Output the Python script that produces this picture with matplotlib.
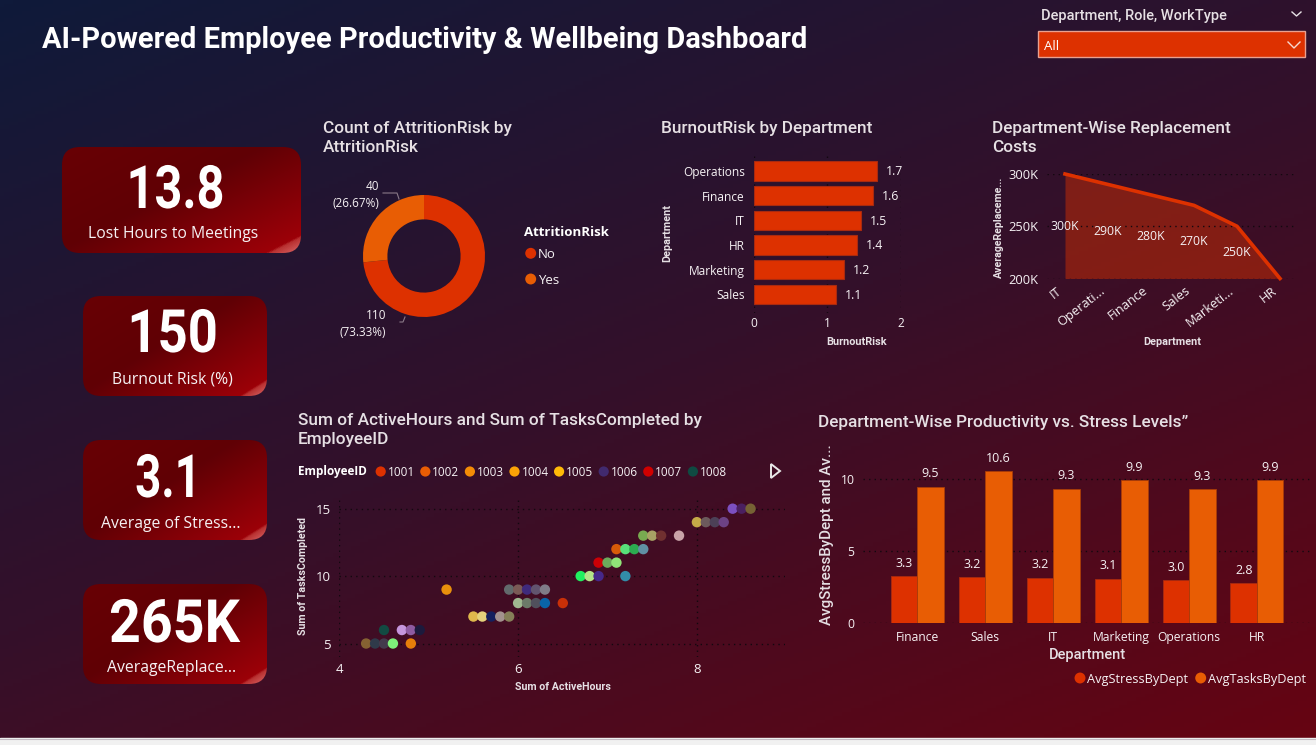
import matplotlib
matplotlib.use('Agg')
import matplotlib.pyplot as plt
import matplotlib.patheffects as pe
import numpy as np
from matplotlib.colors import LinearSegmentedColormap
from matplotlib.patches import FancyBboxPatch, Rectangle
from matplotlib.transforms import Affine2D, ScaledTranslation

kpi_values = ['13.8', '150', '3.1', '265K']
kpi_labels = ['Lost Hours to Meetings', 'Burnout Risk (%)', 'Average of Stress...', 'AverageReplace...']

attrition_labels = ['No', 'Yes']
attrition_counts = [110, 40]

burnout_depts = ['Operations', 'Finance', 'IT', 'HR', 'Marketing', 'Sales']
burnout_values = [1.68, 1.62, 1.46, 1.41, 1.23, 1.12]

cost_depts = ['IT', 'Operati...', 'Finance', 'Sales', 'Marketi...', 'HR']
cost_values = [300000, 290000, 280000, 270000, 250000, 200000]

active_hours = [4.3, 4.4, 4.5, 4.6, 4.8,
                4.5, 4.7, 4.8, 4.9,
                5.5, 5.6, 5.7, 5.8, 5.9,
                6.0, 6.1, 6.2, 6.3, 6.5,
                5.2, 5.9, 6.0, 6.1, 6.2, 6.3,
                6.7, 6.8, 6.9, 7.2,
                6.9, 7.0, 7.1,
                7.1, 7.2, 7.3, 7.4,
                7.4, 7.5, 7.6, 7.8,
                8.0, 8.1, 8.2, 8.3,
                8.4, 8.5, 8.6]
tasks_completed = [5, 5, 5, 5, 5,
                   6, 6, 6, 6,
                   7, 7, 7, 7, 7,
                   8, 8, 8, 8, 8,
                   9, 9, 9, 9, 9, 9,
                   10, 10, 10, 10,
                   11, 11, 11,
                   12, 12, 12, 12,
                   13, 13, 13, 13,
                   14, 14, 14, 14,
                   15, 15, 15]
point_colors = ['#856232', '#2f3a4a', '#433a4c', '#7ef07a', '#e67e0a',
                '#124a42', '#c596dc', '#8e5ba0', '#1c1a3c',
                '#dfb84c', '#e4d27c', '#14205e', '#a3928e', '#857f58',
                '#a0b890', '#6c7a68', '#50505c', '#0a64a8', '#c83008',
                '#e8900c', '#626a6c', '#7a5a56', '#3f2a7c', '#62546e', '#807c88',
                '#20f060', '#b4e488', '#46288a', '#328ca8',
                '#cc0006', '#6caa5c', '#90e478',
                '#d85a08', '#58e07a', '#2cac50', '#6090a4',
                '#78aa50', '#a8a264', '#703030', '#c8a4a8',
                '#c4aa48', '#6c5a5c', '#4c4056', '#6c4284',
                '#7c50c0', '#4a2060', '#766234']

legend_ids = ['1001', '1002', '1003', '1004', '1005', '1006', '1007', '1008']
legend_colors = ['#dd3100', '#e85d04', '#f48c06', '#faa307', '#ffba08', '#412a6e', '#d00000', '#0f4a42']

prod_depts = ['Finance', 'Sales', 'IT', 'Marketing', 'Operations', 'HR']
avg_stress = [3.27, 3.2, 3.16, 3.09, 2.99, 2.76]
avg_tasks = [9.49, 10.6, 9.35, 9.93, 9.33, 9.93]

RED = '#dd3100'
ORANGE = '#e85d04'
TEXT = '#f6f2f4'
TITLE = '#e6e0e4'
GRID = '#12080f'
W, H = 1316, 745
BODY = 'Open Sans'
HEAD = 'Roboto'


class Squeeze(pe.AbstractPathEffect):
    # narrows the glyphs of a text around a pixel column, there is no condensed DIN here
    def __init__(self, sx, cx):
        super().__init__()
        self.sx = sx
        self.cx = cx

    def draw_path(self, renderer, gc, tpath, affine, rgbFace=None):
        squeezed = affine + Affine2D().translate(-self.cx, 0).scale(self.sx, 1).translate(self.cx, 0)
        renderer.draw_path(gc, tpath, squeezed, rgbFace)


def px_axes(left, top, right, bottom):
    # axes placed with pixel coordinates, y counted from the top
    a = fig.add_axes([left / W, 1 - bottom / H, (right - left) / W, (bottom - top) / H])
    a.patch.set_alpha(0)
    for s in a.spines.values():
        s.set_visible(False)
    a.tick_params(length=0, colors=TEXT)
    return a


def style_ticks(a, size=9):
    for t in a.get_xticklabels() + a.get_yticklabels():
        t.set_fontfamily(BODY)
        t.set_fontsize(size)
        t.set_color(TEXT)


fig = plt.figure(figsize=(W / 100, H / 100), dpi=100)

# page background
bg = fig.add_axes([0, 0, 1, 1])
bg.axis('off')
yy, xx = np.mgrid[0:1:200j, 0:1:300j]
bg_cmap = LinearSegmentedColormap.from_list('bg', [(0, '#0f1a3a'), (0.5, '#34102a'), (1, '#660412')])
bg.imshow(0.42 * xx + 0.58 * yy, cmap=bg_cmap, extent=(0, W, 738, 0), aspect='auto', vmin=0, vmax=1)
bg.add_patch(Rectangle((0, 738), W, 7, color='#f1f1f1'))
bg.plot([0, W], [738.5, 738.5], color='#c4bcc4', lw=0.8)
bg.set_xlim(0, W)
bg.set_ylim(H, 0)

bg.text(42, 40, 'AI-Powered Employee Productivity & Wellbeing Dashboard', family=HEAD, weight='bold',
        fontsize=20.9, color='white', va='center')

# slicer
bg.text(1041, 16, 'Department, Role, WorkType', family=HEAD, weight='medium', fontsize=10.5, color=TITLE, va='center')
bg.plot([1292, 1296.5, 1301], [12, 16, 12], color=TITLE, lw=1)
bg.add_patch(Rectangle((1038, 31), 267, 26, facecolor=RED, edgecolor='#e8a090', lw=1))
bg.text(1044, 47, 'All', family=BODY, fontsize=9.5, color='white', va='center')
bg.plot([1288, 1294, 1300], [42, 48, 42], color='#f6d8d0', lw=1)

# KPI cards
card_boxes = [(62, 147, 301, 253), (83, 296, 267, 396), (83, 440, 267, 540), (83, 584, 267, 684)]
value_spots = [(175.5, 192), (172.7, 336), (168, 481), (174.5, 626)]
value_squeeze = [0.815, 0.88, 0.765, 0.93]
label_spots = [(173, 234), (172, 379), (171, 524.5), (172, 668.5)]
card_cmap = LinearSegmentedColormap.from_list('card', [(0, '#680004'), (0.45, '#600005'), (0.925, '#9c0008'),
                                                       (0.935, '#b83030'), (1, '#d86868')])
for box, val, lab, vs, sq, ls in zip(card_boxes, kpi_values, kpi_labels, value_spots, value_squeeze, label_spots):
    x0, y0, x1, y1 = box
    gy, gx = np.mgrid[0:1:160j, 0:1:240j]
    im = bg.imshow(0.535 * gx + 0.465 * gy, cmap=card_cmap, extent=(x0, x1, y1, y0), aspect='auto', vmin=0, vmax=1)
    patch = FancyBboxPatch((x0 + 18, y0 + 18), x1 - x0 - 36, y1 - y0 - 36, boxstyle='round,pad=18,rounding_size=18',
                           facecolor='none', edgecolor='none', transform=bg.transData)
    bg.add_patch(patch)
    im.set_clip_path(patch)
    bg.text(vs[0], vs[1], val, family=HEAD, weight='bold', fontsize=43, color='white', ha='center', va='center',
            path_effects=[Squeeze(sq, vs[0])])
    bg.text(ls[0], ls[1], lab, family=BODY, fontsize=11.3, color=TEXT, ha='center', va='center')
bg.set_xlim(0, W)
bg.set_ylim(H, 0)

# donut
bg.text(323, 138, 'Count of AttritionRisk by\nAttritionRisk', family=HEAD, weight='medium', fontsize=12.4, color=TITLE,
        va='center', linespacing=1.37)
ax1 = px_axes(363, 195, 485, 317)
ax1.pie(attrition_counts, colors=[RED, ORANGE], startangle=90, counterclock=False, radius=1,
        wedgeprops=dict(width=0.4, linewidth=0))
ax1.set_xlim(-1, 1)
ax1.set_ylim(-1, 1)
bg.text(379, 195, '40\n(26.67%)', family=BODY, fontsize=8.5, color=TEXT, ha='right', va='center', linespacing=1.45)
bg.text(386, 324, '110\n(73.33%)', family=BODY, fontsize=8.5, color=TEXT, ha='right', va='center', linespacing=1.45)
bg.plot([383, 397, 399], [193, 193, 199], color='#8a7a88', lw=0.8)
bg.plot([400, 403, 405], [322, 322, 317], color='#8a7a88', lw=0.8)
bg.text(524, 232, 'AttritionRisk', family=BODY, weight='bold', fontsize=9.5, color='white', va='center')
bg.scatter([530.7, 530.7], [253.3, 279], s=62, c=[RED, ORANGE], linewidths=0)
bg.text(538, 254, attrition_labels[0], family=BODY, fontsize=9.5, color=TEXT, va='center')
bg.text(538, 280, attrition_labels[1], family=BODY, fontsize=9.5, color=TEXT, va='center')

# burnout bars
bg.text(661, 129, 'BurnoutRisk by Department', family=HEAD, weight='medium', fontsize=12.4, color=TITLE, va='center')
ax2 = px_axes(753.7, 153, 900.7, 313)
ypos = np.arange(len(burnout_depts))
ax2.barh(ypos, burnout_values, height=0.78, color=RED, edgecolor='#a82a10', linewidth=0.8)
ax2.set_yticks(ypos, burnout_depts)
ax2.set_ylim(5.76, -0.73)
ax2.set_xlim(0, 2)
ax2.set_xticks([0, 1, 2])
ax2.grid(axis='x', color=GRID, ls=(0, (1, 3)), lw=1)
ax2.set_axisbelow(True)
ax2.tick_params(axis='x', pad=3)
ax2.tick_params(axis='y', pad=6.5)
style_ticks(ax2, 8.6)
for y, v in zip(ypos, burnout_values):
    ax2.text(v + 0.12, y + 0.04, f'{v:.1f}', family=BODY, fontsize=8.8, color=TEXT, va='center')
bg.text(667, 233, 'Department', family=HEAD, weight='bold', fontsize=7.8, color=TITLE, rotation=90, ha='center', va='center')
bg.text(857, 342, 'BurnoutRisk', family=HEAD, weight='bold', fontsize=7.8, color=TITLE, ha='center', va='center')

# replacement cost area
bg.text(992, 138, 'Department-Wise Replacement\nCosts', family=HEAD, weight='medium', fontsize=12.4, color=TITLE,
        va='center', linespacing=1.37)
ax3 = px_axes(1047, 174, 1296, 278.5)
xpos = np.arange(len(cost_depts))
ax3.fill_between(xpos, cost_values, 200000, color=RED, alpha=0.45, linewidth=0, clip_on=False)
ax3.plot(xpos, cost_values, color=RED, lw=2.6, clip_on=False)
ax3.set_ylim(200000, 300000)
ax3.set_xlim(-18 / 43, 5 + 16 / 43)
ax3.set_yticks([200000, 250000, 300000], ['200K', '250K', '300K'])
ax3.set_xticks(xpos, cost_depts, rotation=38, ha='right', rotation_mode='anchor')
ax3.grid(axis='y', color=GRID, ls=(0, (1, 3)), lw=1)
ax3.tick_params(axis='y', pad=6)
ax3.tick_params(axis='x', pad=4)
style_ticks(ax3, 9.3)
shift = ScaledTranslation(-0.09, 0, fig.dpi_scale_trans)
for t in ax3.get_xticklabels():
    t.set_transform(t.get_transform() + shift)
for x, v in zip(xpos[:-1], cost_values[:-1]):
    ax3.text(x, (v + 200000) / 2, f'{v // 1000}K', family=BODY, fontsize=8.8, color=TEXT, ha='center', va='center')
bg.text(999, 227, 'AverageReplaceme...', family=HEAD, weight='bold', fontsize=7.6, color=TITLE, rotation=90, ha='center', va='center')
bg.text(1172, 342, 'Department', family=HEAD, weight='bold', fontsize=7.8, color=TITLE, ha='center', va='center')

# scatter
bg.text(298, 430, 'Sum of ActiveHours and Sum of TasksCompleted by\nEmployeeID', family=HEAD, weight='medium', fontsize=12.4,
        color=TITLE, va='center', linespacing=1.37)
bg.text(298, 472, 'EmployeeID', family=BODY, weight='bold', fontsize=8.5, color='white', va='center')
legend_x = 380.7 + 44.6 * np.arange(len(legend_ids))
bg.scatter(legend_x, [471.5] * len(legend_ids), s=54, c=legend_colors, linewidths=0)
for x, name in zip(legend_x, legend_ids):
    bg.text(x + 7, 472.5, name, family=BODY, fontsize=8.5, color=TEXT, va='center')
bg.fill([771, 771, 780, 771], [464, 478, 471, 464], facecolor='none', edgecolor='#e8e8e8', lw=1.4)

ax4 = px_axes(339.3, 498, 785, 657)
ax4.scatter(active_hours, tasks_completed, s=56, c=point_colors, linewidths=0, zorder=3)
ax4.set_xlim(4, 4 + (785 - 339.3) / 89.4)
ax4.set_ylim(4, 5 + (643.7 - 498) / 13.5)
ax4.set_xticks([4, 6, 8])
ax4.set_yticks([5, 10, 15])
ax4.grid(True, color=GRID, ls=(0, (1, 3)), lw=1)
ax4.set_axisbelow(True)
ax4.tick_params(axis='x', pad=4)
ax4.tick_params(axis='y', pad=6)
style_ticks(ax4, 9.5)
bg.text(303, 576, 'Sum of TasksCompleted', family=HEAD, weight='bold', fontsize=7.7, color=TITLE, rotation=90, ha='center', va='center')
bg.text(563, 687, 'Sum of ActiveHours', family=HEAD, weight='bold', fontsize=7.7, color=TITLE, ha='center', va='center')

# productivity bars
bg.text(818, 423, 'Department-Wise Productivity vs. Stress Levels\u201d', family=HEAD, weight='medium', fontsize=12.4, color=TITLE, va='center')
ax5 = px_axes(863, 445, 1312, 623)
pos = np.arange(len(prod_depts))
bw = 0.39
ax5.bar(pos - bw / 2, avg_stress, bw, color=RED, edgecolor='#a82a10', linewidth=0.6)
ax5.bar(pos + bw / 2, avg_tasks, bw, color=ORANGE, edgecolor='#a83c08', linewidth=0.6)
ax5.set_xlim(-0.8, 5.81)
ax5.set_ylim(0, 178 / 14.37)
ax5.set_yticks([0, 5, 10])
ax5.set_xticks(pos, prod_depts)
ax5.grid(axis='y', color=GRID, ls=(0, (1, 3)), lw=1)
ax5.set_axisbelow(True)
ax5.tick_params(axis='x', pad=6)
ax5.tick_params(axis='y', pad=6)
style_ticks(ax5, 8.7)
for x, s, t in zip(pos, avg_stress, avg_tasks):
    ax5.text(x - bw / 2, s + 0.88, f'{s:.1f}', family=BODY, fontsize=9, color=TEXT, ha='center', va='center')
    ax5.text(x + bw / 2, t + 0.88, f'{t:.1f}', family=BODY, fontsize=9, color=TEXT, ha='center', va='center')
bg.text(827, 535, 'AvgStressByDept and Av...', family=HEAD, weight='medium', fontsize=10.9, color=TITLE, rotation=90, ha='center', va='center')
bg.text(1088, 655, 'Department', family=HEAD, weight='medium', fontsize=10.5, color=TITLE, ha='center', va='center')
bg.scatter([1080, 1200.7], [678, 678], s=62, c=[RED, ORANGE], linewidths=0)
bg.text(1087, 679, 'AvgStressByDept', family=BODY, fontsize=9.2, color=TEXT, va='center')
bg.text(1208.5, 679, 'AvgTasksByDept', family=BODY, fontsize=9.2, color=TEXT, va='center')

fig.savefig('out.png', dpi=100)
